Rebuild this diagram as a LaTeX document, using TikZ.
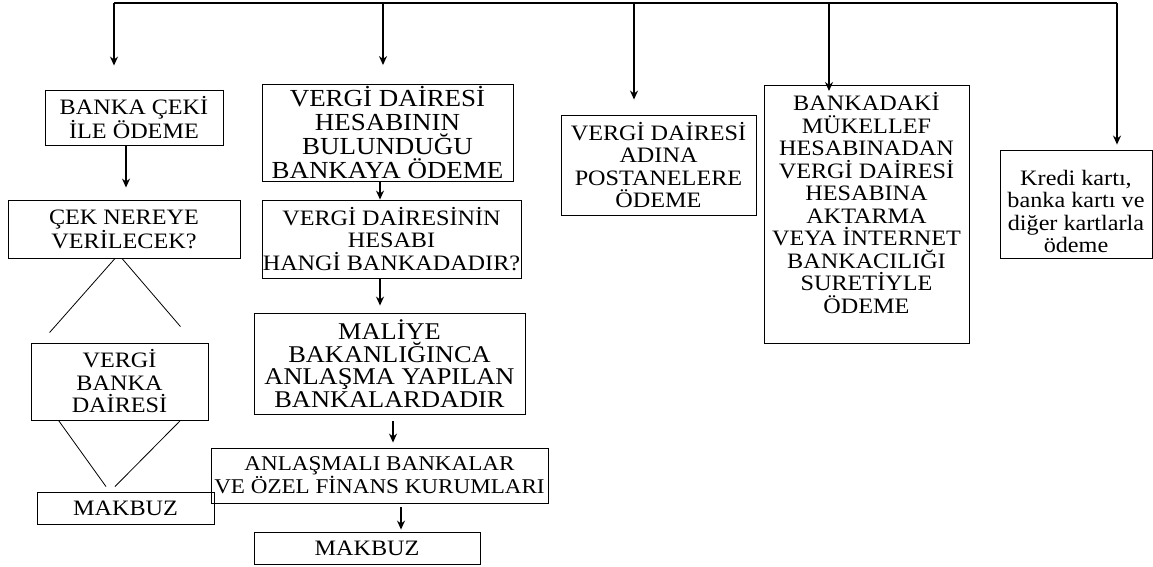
\documentclass[tikz,border=0pt]{standalone}
\usepackage{fontspec}
\setmainfont{Liberation Serif}[FakeStretch=1.1]
\usetikzlibrary{positioning,arrows.meta}
\tikzstyle{stage} = [rectangle, draw=black, line width=0.9pt, align=center, inner sep=0pt, font=\fontsize{22}{22.5}\selectfont]
\tikzstyle{arrow} = [line width=1.3pt,-{Stealth[length=9pt,width=8pt]}]
\tikzstyle{link} = [line width=0.8pt]

\begin{document}
\begin{tikzpicture}[x=1pt,y=-1pt]
\useasboundingbox (0,0) rectangle (1153,566);

% left column: check
\node (cek) [stage, minimum width=178, minimum height=55] at (134,117.5) {BANKA ÇEKİ\\İLE ÖDEME};
\node (nereye) [stage, minimum width=232, minimum height=58] at (124,229) {ÇEK NEREYE\\VERİLECEK?};
\node (vbd) [stage, minimum width=177, minimum height=77] at (119.5,381.5) {VERGİ\\BANKA\\DAİRESİ};
\node (makA) [stage, minimum width=177, minimum height=32] at (125.5,508) {MAKBUZ};

% middle column
\node (hes) [stage, minimum width=251, minimum height=97, font=\fontsize{24.5}{24}\selectfont] at (387.5,133) {VERGİ DAİRESİ\\HESABININ\\BULUNDUĞU\\BANKAYA ÖDEME};
\node (hangi) [stage, minimum width=259, minimum height=78] at (391.5,239) {VERGİ DAİRESİNİN\\HESABI\\HANGİ BANKADADIR?};
\node (maliye) [stage, minimum width=271, minimum height=101, font=\fontsize{24}{22.5}\selectfont] at (389.5,363.5) {MALİYE\\BAKANLIĞINCA\\ANLAŞMA YAPILAN\\BANKALARDADIR};
\node (anl) [stage, minimum width=337, minimum height=55, font=\fontsize{21}{23}\selectfont] at (379.5,475.5) {ANLAŞMALI BANKALAR\\VE ÖZEL FİNANS KURUMLARI};
\node (makB) [stage, minimum width=226, minimum height=32] at (367,548) {MAKBUZ};

% right side
\node (posta) [stage, minimum width=195, minimum height=100] at (658.5,165) {VERGİ DAİRESİ\\ADINA\\POSTANELERE\\ÖDEME};
\node (banka) [stage, minimum width=205, inner ysep=7pt, text depth=23pt, anchor=north] at (866.5,85) {BANKADAKİ\\MÜKELLEF\\HESABINADAN\\VERGİ DAİRESİ\\HESABINA\\AKTARMA\\VEYA İNTERNET\\BANKACILIĞI\\SURETİYLE\\ÖDEME};
\node (kredi) [stage, minimum width=152, minimum height=108, text height=98pt] at (1076,204) {Kredi kartı,\\banka kartı ve\\diğer kartlarla\\ödeme};

% top line
\coordinate (b1) at (114,3);
\coordinate (b2) at (383,3);
\coordinate (b3) at (634,3);
\coordinate (b4) at (829,3);
\coordinate (b5) at (1117,3);
\draw [line width=1.3pt] (b1) -- (b5);

\draw [arrow] (b1) -- ([xshift=-20pt,yshift=24pt]cek.north);
\draw [arrow] (b2) -- ([xshift=-4.5pt,yshift=19pt]hes.north);
\draw [arrow] (b3) -- ([xshift=-24.5pt,yshift=15pt]posta.north);
\draw [arrow] (b4) -- ([xshift=-37.5pt,yshift=-6pt]banka.north);
\draw [arrow] (b5) -- ([xshift=41pt,yshift=5pt]kredi.north);

\draw [arrow] ([xshift=-8pt]cek.south) -- ([xshift=2pt,yshift=12pt]nereye.north);
\draw [link] ([xshift=-9pt]nereye.south) -- ([xshift=19pt,yshift=10pt]vbd.north west);
\draw [link] ([xshift=-2pt]nereye.south) -- ([xshift=-28pt,yshift=16pt]vbd.north east);
\draw [link] ([xshift=28pt]vbd.south west) -- ([xshift=-19.5pt,yshift=5pt]makA.north);
\draw [link] ([xshift=-28pt]vbd.south east) -- ([xshift=-10.5pt,yshift=5pt]makA.north);

\draw [arrow] ([xshift=-7.5pt]hes.south) -- ([xshift=-11.5pt]hangi.north);
\draw [arrow] ([xshift=-11.5pt]hangi.south) -- ([xshift=-9.5pt,yshift=7pt]maliye.north);
\draw [arrow] ([xshift=3.5pt,yshift=-7pt]maliye.south) -- ([xshift=13.5pt,yshift=5pt]anl.north);
\draw [arrow] ([xshift=21.5pt,yshift=-4pt]anl.south) -- ([xshift=34pt,yshift=2pt]makB.north);

\end{tikzpicture}
\end{document}
